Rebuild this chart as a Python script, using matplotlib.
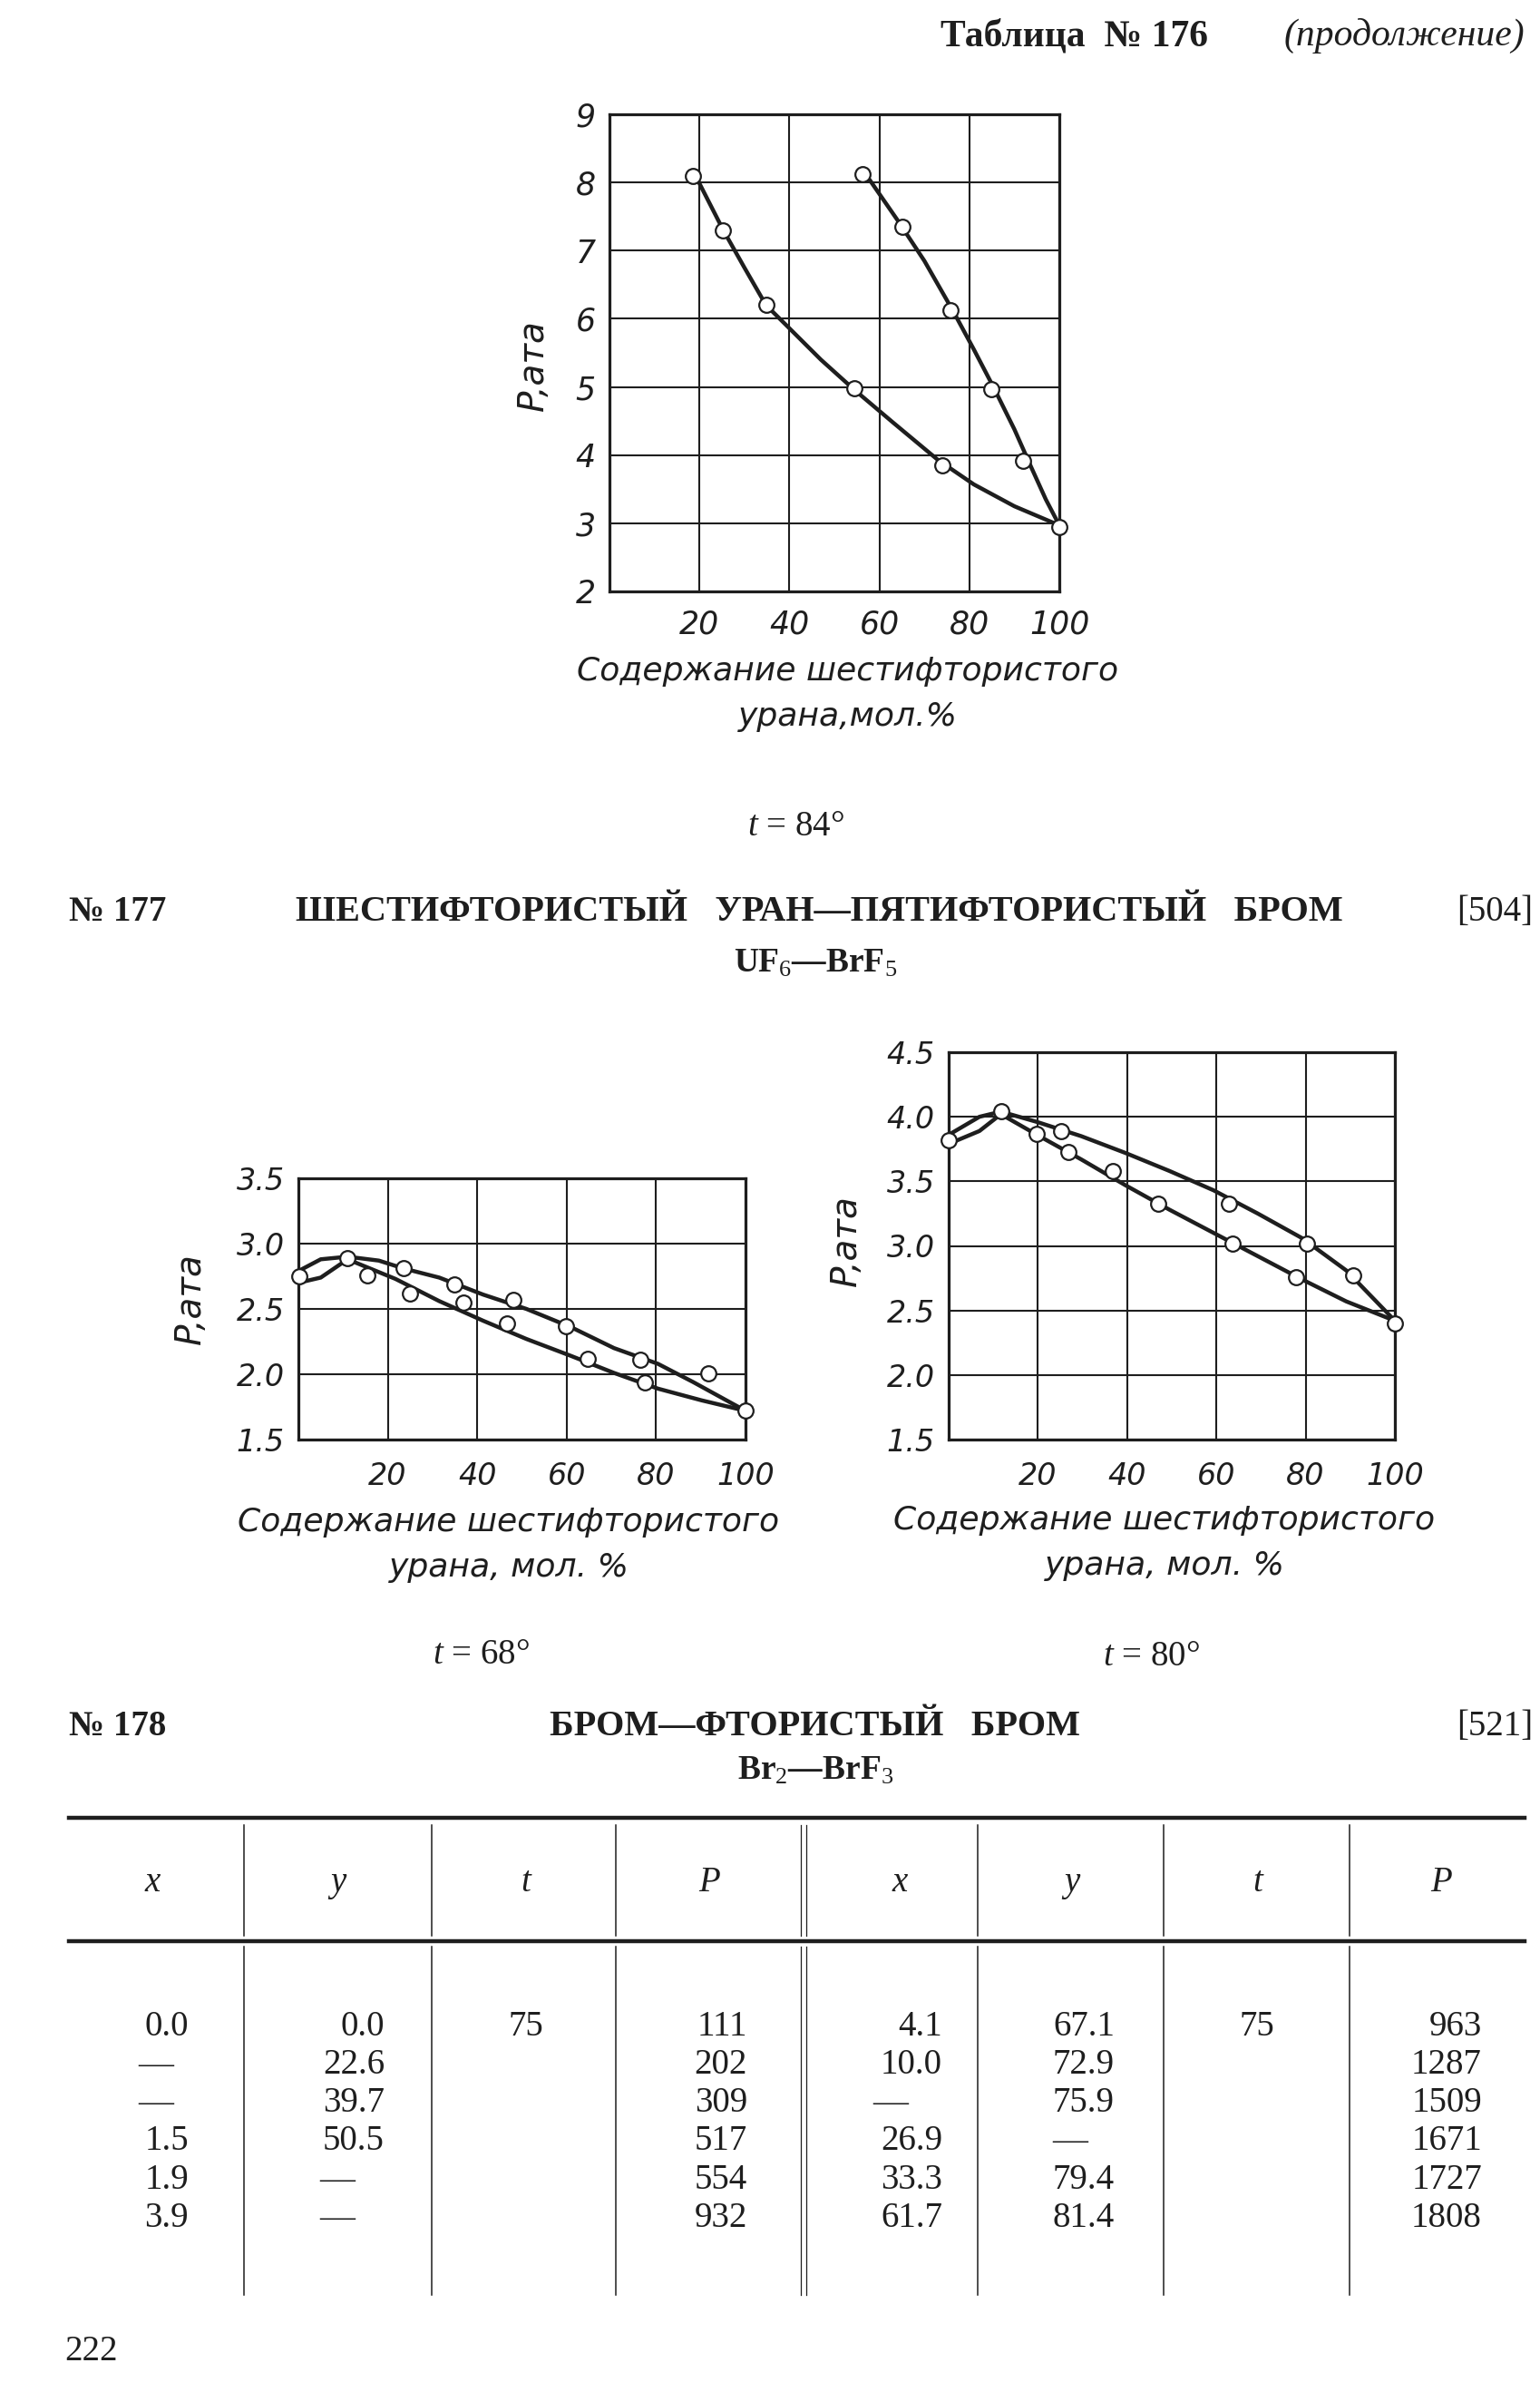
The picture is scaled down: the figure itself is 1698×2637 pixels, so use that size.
import matplotlib
matplotlib.use('Agg')
import matplotlib.pyplot as plt

plt.rcParams['mathtext.fontset'] = 'custom'
plt.rcParams['mathtext.rm'] = 'Liberation Serif'
plt.rcParams['mathtext.it'] = 'Liberation Serif:italic'
plt.rcParams['mathtext.bf'] = 'Liberation Serif:bold'

INK = '#1e1e1e'
SERIF = ['Liberation Serif', 'DejaVu Serif']
HAND = ['DejaVu Sans']

# ---------------- data ----------------
# Table 176 (continued), t = 84°
t84_left_x = [18.5, 25.3, 34.8, 54.4, 74.0, 100.0]
t84_left_p = [8.10, 7.30, 6.20, 4.98, 3.85, 2.95]
t84_right_x = [56.3, 65.2, 75.8, 84.8, 92.0]
t84_right_p = [8.12, 7.35, 6.13, 4.97, 3.92]
t84_curveA_x = [19.5, 25.3, 30.0, 34.8, 40.0, 47.0, 54.4, 63.0, 73.0, 81.0, 90.0, 100.0]
t84_curveA_p = [8.05, 7.30, 6.75, 6.20, 5.86, 5.40, 4.96, 4.48, 3.93, 3.57, 3.25, 2.97]
t84_curveB_x = [57.5, 64.0, 70.0, 76.5, 81.0, 85.5, 90.0, 93.7, 97.0, 100.0]
t84_curveB_p = [8.07, 7.45, 6.85, 6.10, 5.55, 4.98, 4.38, 3.83, 3.35, 2.97]
t84_yticks = [2, 3, 4, 5, 6, 7, 8, 9]

# No 177, UF6-BrF5, t = 68°
t68_pts_x = [0.2, 11.0, 15.4, 23.5, 24.9, 34.9, 36.9, 48.1, 46.7, 59.9, 64.8, 76.5, 77.5, 91.7, 100.0]
t68_pts_p = [2.75, 2.89, 2.76, 2.81, 2.62, 2.69, 2.55, 2.57, 2.39, 2.37, 2.12, 2.11, 1.94, 2.01, 1.72]
t68_up_x = [0, 5, 11, 18, 23.5, 31.5, 41.3, 51, 61, 70.6, 80.4, 88.3, 100]
t68_up_p = [2.79, 2.88, 2.90, 2.87, 2.81, 2.74, 2.61, 2.50, 2.36, 2.20, 2.08, 1.94, 1.72]
t68_lo_x = [0, 5, 11, 21.7, 31.5, 41.3, 51, 61, 70.6, 80.4, 90.2, 100]
t68_lo_p = [2.70, 2.74, 2.88, 2.73, 2.56, 2.41, 2.27, 2.14, 2.01, 1.89, 1.80, 1.72]

# No 177, t = 80°
t80_pts_x = [0, 11.7, 19.8, 25.2, 26.9, 36.8, 47.0, 62.9, 63.6, 80.2, 77.9, 90.6, 100]
t80_pts_p = [3.82, 4.04, 3.87, 3.89, 3.73, 3.58, 3.33, 3.33, 3.02, 3.02, 2.76, 2.77, 2.40]
t80_up_x = [0, 6.9, 11.7, 19.8, 29.7, 39.6, 49.5, 59.4, 69.3, 79.2, 89.1, 100]
t80_up_p = [3.86, 4.00, 4.04, 3.96, 3.85, 3.72, 3.58, 3.43, 3.25, 3.06, 2.81, 2.42]
t80_lo_x = [0, 6.9, 11.7, 19.8, 29.7, 39.6, 49.5, 59.4, 69.3, 79.2, 89.1, 100]
t80_lo_p = [3.79, 3.89, 4.02, 3.86, 3.67, 3.47, 3.28, 3.10, 2.92, 2.74, 2.57, 2.42]

x_ticks = [20, 40, 60, 80, 100]

# No 178, Br2-BrF3 table
col_headers = ['x', 'y', 't', 'P', 'x', 'y', 't', 'P']
tab_x1 = [0.0, None, None, 1.5, 1.9, 3.9]
tab_y1 = [0.0, 22.6, 39.7, 50.5, None, None]
tab_t1 = 75
tab_P1 = [111, 202, 309, 517, 554, 932]
tab_x2 = [4.1, 10.0, None, 26.9, 33.3, 61.7]
tab_y2 = [67.1, 72.9, 75.9, None, 79.4, 81.4]
tab_t2 = 75
tab_P2 = [963, 1287, 1509, 1671, 1727, 1808]

# ---------------- figure ----------------
W, H = 1698, 2637
fig = plt.figure(figsize=(W / 100, H / 100), dpi=100)
fig.patch.set_facecolor('white')

ov = fig.add_axes([0, 0, 1, 1])
ov.set_xlim(0, W)
ov.set_ylim(H, 0)
ov.axis('off')


def rect(l, t, r, b):
    return [l / W, 1 - b / H, (r - l) / W, (b - t) / H]


def chart(box, ylim, yticks, ylabels, curves, pts, size, xpad):
    ax = fig.add_axes(rect(*box))
    ax.set_xlim(0, 100)
    ax.set_ylim(*ylim)
    ax.set_xticks(x_ticks)
    ax.set_xticklabels([str(v) for v in x_ticks])
    ax.set_yticks(yticks)
    ax.set_yticklabels(ylabels)
    ax.grid(True, color=INK, lw=1.5)
    ax.set_axisbelow(True)
    ax.tick_params(length=0, pad=11, labelsize=size, colors=INK)
    ax.tick_params(axis='x', pad=xpad)
    for lbl in ax.get_xticklabels() + ax.get_yticklabels():
        lbl.set_fontstyle('italic')
        lbl.set_family(HAND)
    for s in ax.spines.values():
        s.set_linewidth(2.3)
        s.set_color(INK)
    for cx, cy in curves:
        ax.plot(cx, cy, color=INK, lw=3.2, solid_joinstyle='round',
                solid_capstyle='round', clip_on=False, zorder=3)
    for px_, py_ in pts:
        ax.plot(px_, py_, 'o', ms=12, mfc='white', mec=INK, mew=1.6,
                clip_on=False, zorder=5, ls='none')
    return ax


# top chart t = 84
chart((672, 126, 1168, 652), (2, 9), t84_yticks, [str(v) for v in t84_yticks],
      [(t84_curveA_x, t84_curveA_p), (t84_curveB_x, t84_curveB_p)],
      [(t84_left_x, t84_left_p), (t84_right_x, t84_right_p)], 25, 14)

# middle left t = 68
yt68 = [1.5, 2.0, 2.5, 3.0, 3.5]
chart((329, 1299, 822, 1587), (1.5, 3.5), yt68, ['%.1f' % v for v in yt68],
      [(t68_up_x, t68_up_p), (t68_lo_x, t68_lo_p)],
      [(t68_pts_x, t68_pts_p)], 24, 17)

# middle right t = 80
yt80 = [1.5, 2.0, 2.5, 3.0, 3.5, 4.0, 4.5]
chart((1046, 1160, 1538, 1587), (1.5, 4.5), yt80, ['%.1f' % v for v in yt80],
      [(t80_up_x, t80_up_p), (t80_lo_x, t80_lo_p)],
      [(t80_pts_x, t80_pts_p)], 24, 17)

# chart axis titles
XL1 = 'Содержание шестифтористого'
for (cx, y1, y2, line2) in [(935, 740, 790, 'урана,мол.%'),
                            (561, 1678, 1728, 'урана, мол. %'),
                            (1284, 1676, 1726, 'урана, мол. %')]:
    ov.text(cx, y1, XL1, ha='center', va='center', fontstyle='italic',
            family=HAND, size=26, color=INK)
    ov.text(cx, y2, line2, ha='center', va='center', fontstyle='italic',
            family=HAND, size=26, color=INK)
for (x, y) in [(588, 403), (210, 1432), (933, 1368)]:
    ov.text(x, y, 'P,ата', rotation=90, ha='center', va='center',
            fontstyle='italic', family=HAND, size=28, color=INK)


# serif text
def st(x, y, s, ha='left', size=27, **kw):
    ov.text(x, y, s, ha=ha, va='baseline', family=SERIF, size=size, color=INK, **kw)


st(1037, 50, 'Таблица  № 176', weight='bold', size=30)
st(1681, 50, '(продолжение)', ha='right', fontstyle='italic', size=30)

st(877, 921, r'$t$ = 84°', ha='center', size=28)
st(76, 1015, '№ 177', weight='bold', size=28)
st(903, 1015, 'ШЕСТИФТОРИСТЫЙ   УРАН—ПЯТИФТОРИСТЫЙ   БРОМ',
   ha='center', weight='bold', size=29)
st(1690, 1015, '[504]', ha='right', size=28)
st(899, 1072, r'UF$_{6}$—BrF$_{5}$', ha='center', weight='bold')

st(530, 1834, r'$t$ = 68°', ha='center', size=28)
st(1269, 1836, r'$t$ = 80°', ha='center', size=28)

st(76, 1913, '№ 178', weight='bold', size=28)
st(899, 1913, 'БРОМ—ФТОРИСТЫЙ   БРОМ', ha='center', weight='bold', size=29)
st(1690, 1913, '[521]', ha='right', size=28)
st(899, 1962, r'Br$_{2}$—BrF$_{3}$', ha='center', weight='bold')

# table
ov.plot([76, 1681], [2004, 2004], color=INK, lw=3.2)
ov.plot([76, 1681], [2140, 2140], color=INK, lw=3.2)
vx = [269, 476, 679, 1078, 1283, 1488]
for x in vx:
    ov.plot([x, x], [2012, 2134], color=INK, lw=1.1)
    ov.plot([x, x], [2146, 2530], color=INK, lw=1.1)
for x in [883, 889]:
    ov.plot([x, x], [2012, 2134], color=INK, lw=0.9)
    ov.plot([x, x], [2146, 2530], color=INK, lw=0.9)

hdr_x = [168, 373, 580, 782, 992, 1182, 1387, 1589]
for x, h in zip(hdr_x, col_headers):
    st(x, 2085, h, ha='center', fontstyle='italic', size=28)

col_centers = [172, 372, 580, 782, 982, 1180, 1386, 1589]
col_right = [208, 424, None, 824, 1039, 1229, None, 1634]
row_base = [2244, 2286, 2328, 2370, 2413, 2455]


def cell(ci, ri, v, fmt):
    if v is None:
        st(col_centers[ci], row_base[ri], '—', ha='center', size=28)
    else:
        st(col_right[ci], row_base[ri], fmt % v, ha='right', size=28)


for ri in range(6):
    cell(0, ri, tab_x1[ri], '%.1f')
    cell(1, ri, tab_y1[ri], '%.1f')
    cell(3, ri, tab_P1[ri], '%d')
    cell(4, ri, tab_x2[ri], '%.1f')
    cell(5, ri, tab_y2[ri], '%.1f')
    cell(7, ri, tab_P2[ri], '%d')
st(col_centers[2], row_base[0], str(tab_t1), ha='center', size=28)
st(col_centers[6], row_base[0], str(tab_t2), ha='center', size=28)

st(71, 2602, '222', size=28)

fig.savefig('out.png', dpi=100, facecolor='white')
